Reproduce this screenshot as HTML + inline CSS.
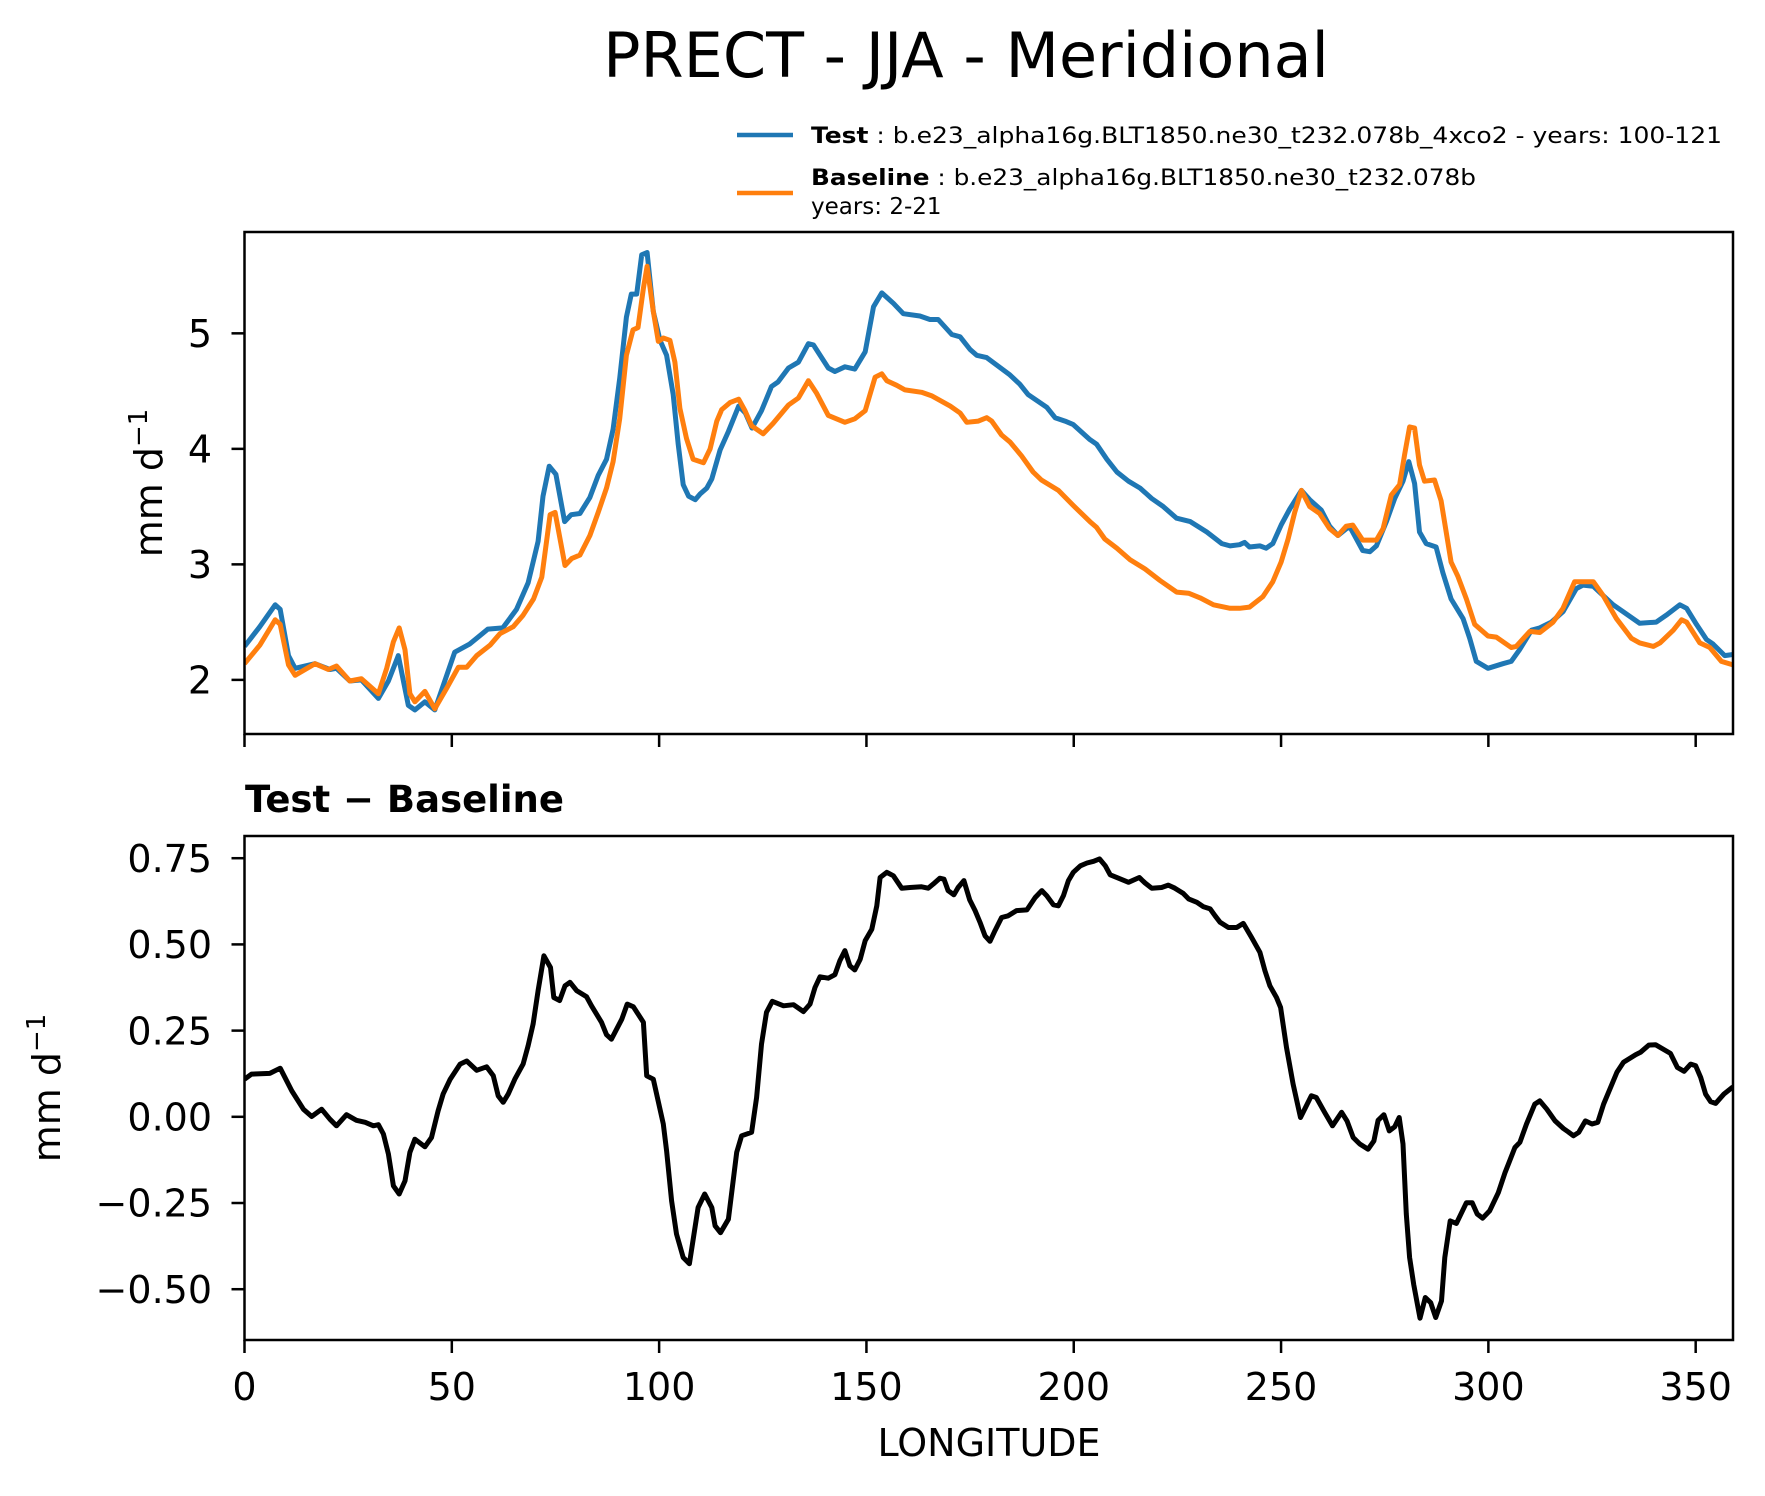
<!DOCTYPE html>
<html><head><meta charset="utf-8"><style>
html,body{margin:0;padding:0;background:#fff;}
svg{display:block;font-family:"DejaVu Sans","Liberation Sans",sans-serif;}
</style></head><body>
<svg id="chart" width="1765" height="1496" viewBox="0 0 1765 1496" xmlns="http://www.w3.org/2000/svg">
<text x="966" y="77" font-size="62" text-anchor="middle">PRECT - JJA - Meridional</text>
<g>
<line x1="737" y1="135" x2="793" y2="135" stroke="#1f77b4" stroke-width="4.5"/>
<text x="811" y="143" font-size="22" textLength="911" lengthAdjust="spacingAndGlyphs"><tspan font-weight="bold">Test</tspan> : b.e23_alpha16g.BLT1850.ne30_t232.078b_4xco2 - years: 100-121</text>
<line x1="737" y1="193" x2="793" y2="193" stroke="#ff7f0e" stroke-width="4.5"/>
<text x="811" y="185" font-size="22" textLength="665" lengthAdjust="spacingAndGlyphs"><tspan font-weight="bold">Baseline</tspan> : b.e23_alpha16g.BLT1850.ne30_t232.078b</text>
<text x="811" y="214" font-size="23">years: 2-21</text>
</g>
<g id="topg"></g>
<g id="botg"></g>
<text x="245" y="812" font-size="37" font-weight="bold">Test − Baseline</text>
<text x="989" y="1456" font-size="38" text-anchor="middle">LONGITUDE</text>
<text transform="translate(162,483) rotate(-90)" font-size="38" text-anchor="middle">mm d<tspan font-size="26" dy="-15">−1</tspan></text>
<text transform="translate(60,1088) rotate(-90)" font-size="38" text-anchor="middle">mm d<tspan font-size="26" dy="-15">−1</tspan></text>
</svg>
<script>
const lonTest=[0,3.7,7.4,8.6,10.6,12.2,17,20.6,22.2,25.4,28.2,32.3,34.7,37.1,39.5,41.1,43.5,45.9,50.7,54.3,58.7,62.3,65.6,68.4,70.8,72,73.5,75.1,77.2,78.8,80.9,83.3,85.3,87.3,88.9,90.5,92.1,93.3,94.6,95.8,97.1,98.6,100.2,101.8,103.4,104.6,105.8,107.1,108.7,109.9,111.5,112.7,114.7,116.7,119.2,120.8,122.4,124.7,127.1,128.7,131.2,133.6,136,137.2,140.8,142.4,144.8,147.2,149.7,151.7,153.7,156.5,158.9,162.9,165.3,167.3,170.6,172.6,175,176.6,179,184.6,187,189,193.5,195.5,197.9,199.9,203.9,205.5,208,210.4,213.2,216,218.8,221.6,224.8,228.1,232.1,235.7,237.7,240,241.2,242.4,244.9,246.4,248,250,252.1,254.9,256.9,259.7,261.7,263.7,266.5,269.7,271.4,273,275.4,277.4,279.4,280.8,282.2,283.4,285,287.4,289,291,293.9,295.5,297.1,299.9,303.5,305.5,307.5,310.4,312.4,315.2,318,321.2,322.8,325.3,327.7,330.1,332.5,336.5,340.5,342.9,346.2,347.8,350.2,352.6,354.2,357,359];
const testVals=[2.29,2.46,2.65,2.61,2.21,2.10,2.14,2.09,2.10,1.99,2.00,1.84,1.99,2.21,1.78,1.74,1.81,1.74,2.24,2.31,2.44,2.45,2.61,2.84,3.20,3.59,3.85,3.78,3.37,3.43,3.44,3.58,3.77,3.91,4.17,4.61,5.14,5.34,5.34,5.68,5.70,5.19,4.94,4.81,4.47,4.04,3.69,3.59,3.56,3.61,3.66,3.74,3.99,4.15,4.37,4.31,4.18,4.33,4.54,4.58,4.70,4.75,4.91,4.90,4.70,4.67,4.71,4.69,4.84,5.23,5.35,5.26,5.17,5.15,5.12,5.12,4.99,4.97,4.86,4.81,4.79,4.64,4.56,4.47,4.36,4.27,4.24,4.21,4.08,4.04,3.91,3.80,3.72,3.66,3.57,3.50,3.40,3.37,3.28,3.18,3.16,3.17,3.19,3.15,3.16,3.14,3.18,3.34,3.48,3.64,3.56,3.47,3.33,3.25,3.33,3.12,3.11,3.16,3.37,3.57,3.72,3.89,3.70,3.28,3.18,3.15,2.93,2.70,2.53,2.36,2.16,2.10,2.14,2.16,2.26,2.43,2.45,2.50,2.59,2.79,2.82,2.81,2.73,2.65,2.59,2.49,2.50,2.56,2.65,2.62,2.48,2.35,2.31,2.21,2.22];
const lonBase=[0,3.7,7.4,8.6,10.6,12.2,17,20.2,22.2,25.4,28.2,32.3,34.3,35.9,37.3,38.7,39.9,41.1,43.5,45.9,48.8,51.6,53.6,56,59.2,61.6,64.8,67.2,69.7,71.7,73.7,74.9,77.3,78.9,80.9,83.3,85.3,87.3,88.9,90.5,92.1,93.7,94.9,96.2,97.1,98.6,99.8,101,102.6,103.8,105,106.6,108.2,110.7,112.3,113.9,115.1,117.1,119.2,120.7,122.3,125.1,127.5,131.2,133.6,136,138,140.8,144.8,147.2,149.7,152.1,153.7,154.9,157.3,159.3,163.3,165.7,170.2,172.6,174.2,177,179,180.2,182.6,184.6,187.4,190.2,192.2,196.3,199.9,203.9,205.5,207.5,210.4,213.6,217.2,220.8,224.8,227.7,230.5,233.7,237.7,240,242.4,245.6,248,250,251.7,253.3,254.9,256.9,259.3,261.7,263.7,265.7,267.3,269.7,273,274.6,276.6,278.6,279.8,281,282.2,283.4,284.6,287,288.6,291,292.6,294.7,296.7,299.9,301.9,305.5,306.7,310,312.4,315.6,318,320.8,323.6,325.3,327.7,330.9,334.5,336.5,339.8,341.4,344.6,346.6,347.8,351,353.4,356.2,359];
const baseVals=[2.14,2.30,2.52,2.48,2.13,2.04,2.14,2.09,2.12,1.99,2.01,1.88,2.10,2.33,2.45,2.26,1.88,1.81,1.90,1.75,1.93,2.11,2.11,2.21,2.30,2.40,2.46,2.56,2.70,2.89,3.43,3.45,2.99,3.05,3.08,3.25,3.45,3.66,3.89,4.26,4.81,5.03,5.05,5.39,5.58,5.19,4.93,4.96,4.94,4.75,4.35,4.09,3.91,3.88,4.00,4.24,4.34,4.40,4.43,4.33,4.20,4.13,4.22,4.38,4.44,4.59,4.48,4.29,4.23,4.26,4.33,4.62,4.65,4.59,4.55,4.51,4.49,4.46,4.37,4.31,4.23,4.24,4.27,4.24,4.12,4.06,3.94,3.80,3.73,3.64,3.51,3.37,3.32,3.22,3.14,3.04,2.96,2.86,2.76,2.75,2.71,2.65,2.62,2.62,2.63,2.72,2.85,3.02,3.22,3.45,3.64,3.50,3.44,3.31,3.25,3.33,3.34,3.21,3.21,3.31,3.60,3.69,3.95,4.19,4.18,3.86,3.72,3.73,3.55,3.02,2.90,2.70,2.48,2.38,2.37,2.28,2.29,2.42,2.41,2.50,2.62,2.85,2.85,2.85,2.73,2.53,2.36,2.32,2.29,2.32,2.43,2.52,2.50,2.32,2.28,2.16,2.13];
const lonDiff=[0,1.7,6.1,8.6,11.4,14.2,16.2,18.6,20.6,22.2,24.6,27,29.1,31.1,32.3,33.5,34.7,35.9,37.3,38.7,39.9,41.1,43.5,45.1,46.7,47.9,49.6,52,53.6,56,58.4,60,61.2,62.4,63.6,65.2,67.2,68.4,69.6,70.8,72.2,73.8,74.6,76,77.3,78.5,80.1,82.5,83.7,86.1,87.3,88.5,91,92.3,93.8,96.2,97,98.6,101,101.8,103,104.2,105.8,107.3,109.4,111,112.7,113.5,114.8,116.7,118.7,119.9,122.3,123.5,124.7,125.9,127.3,130,132.4,134.8,136.4,137.6,138.8,140.8,142.4,143.6,144.8,146,147.2,148.5,149.7,151.3,152.5,153.3,154.9,156.5,158.5,160.5,163.3,164.9,166.1,167.7,168.7,169.7,171.1,172.1,173.5,174.9,176.2,177.4,178.6,179.8,181,182.6,184.2,186.2,188.7,190.7,192.3,193.5,195.1,196.3,197.5,198.7,199.9,201.6,203.2,204.8,206.2,207.6,208.8,210.8,213.2,215.8,217.2,218.8,221.2,222.8,224.4,226.4,227.7,229.7,231.3,232.9,234.1,235.3,237.3,239.3,240.9,242.9,244.9,246.1,247.3,248.9,249.9,251.3,252.9,254.7,255.9,257.3,258.5,260.5,262.4,264.6,265.9,267.4,269,271,272.4,273.4,274.8,276.1,277.4,278.5,279.4,280.2,281,282,283.5,284.8,286.1,287.3,288.7,289.5,290.8,292.3,294.7,296.1,297.3,298.6,300.3,302.4,304,305,306.4,307.6,309.2,311.2,312.4,314.1,316.1,318.1,319.3,320.5,321.8,323.4,325,326.4,327.8,331,332.6,335.5,336.7,338.7,340.3,343.9,345.6,347.2,348.8,350,351.2,352.4,353.6,354.8,356.8,359];
const diffVals=[0.109,0.124,0.126,0.141,0.075,0.022,0.001,0.022,-0.007,-0.026,0.006,-0.010,-0.016,-0.026,-0.023,-0.050,-0.108,-0.200,-0.224,-0.186,-0.103,-0.065,-0.087,-0.060,0.017,0.066,0.109,0.153,0.162,0.135,0.145,0.119,0.061,0.042,0.066,0.109,0.153,0.206,0.269,0.366,0.467,0.433,0.346,0.337,0.380,0.390,0.366,0.348,0.322,0.274,0.238,0.225,0.283,0.327,0.319,0.274,0.119,0.109,-0.021,-0.099,-0.244,-0.340,-0.408,-0.426,-0.263,-0.224,-0.263,-0.316,-0.336,-0.297,-0.103,-0.055,-0.045,0.056,0.211,0.303,0.335,0.322,0.325,0.305,0.327,0.375,0.406,0.402,0.412,0.453,0.482,0.438,0.426,0.457,0.511,0.544,0.612,0.694,0.709,0.699,0.663,0.665,0.667,0.663,0.675,0.692,0.689,0.656,0.644,0.665,0.685,0.629,0.598,0.564,0.525,0.509,0.540,0.578,0.583,0.598,0.600,0.636,0.656,0.641,0.615,0.612,0.641,0.685,0.709,0.728,0.736,0.741,0.748,0.728,0.702,0.692,0.680,0.694,0.678,0.663,0.665,0.672,0.663,0.648,0.632,0.622,0.609,0.603,0.583,0.564,0.549,0.549,0.561,0.520,0.477,0.424,0.380,0.346,0.317,0.201,0.095,-0.002,0.027,0.061,0.056,0.013,-0.026,0.013,-0.012,-0.060,-0.079,-0.094,-0.070,-0.010,0.006,-0.041,-0.029,-0.002,-0.079,-0.282,-0.408,-0.486,-0.584,-0.524,-0.539,-0.582,-0.534,-0.408,-0.302,-0.309,-0.249,-0.249,-0.282,-0.294,-0.273,-0.220,-0.162,-0.132,-0.089,-0.074,-0.021,0.037,0.046,0.022,-0.012,-0.034,-0.044,-0.055,-0.045,-0.012,-0.021,-0.016,0.037,0.129,0.158,0.180,0.187,0.208,0.209,0.184,0.143,0.132,0.153,0.148,0.114,0.066,0.044,0.039,0.066,0.087];
const xTicks=[0,50,100,150,200,250,300,350];
const topTicks=[2,3,4,5];
const topTickLabels=["2","3","4","5"];
const botTicks=[-0.5,-0.25,0,0.25,0.5,0.75];
const botTickLabels=["−0.50","−0.25","0.00","0.25","0.50","0.75"];

const NS="http://www.w3.org/2000/svg";
const X0=244.5, X1=1733, LON0=0, LON1=359;
function xs(l){return X0+(l-LON0)*(X1-X0)/(LON1-LON0);}
const TOPP={y0:232,y1:734,vmin:1.5315,vmax:5.8773};
const BOTP={y0:836,y1:1340,vmin:-0.6473,vmax:0.8144};
function ysF(p){return v=>p.y1-(v-p.vmin)*(p.y1-p.y0)/(p.vmax-p.vmin);}
function mk(tag,attrs,parent){const e=document.createElementNS(NS,tag);for(const k in attrs)e.setAttribute(k,attrs[k]);parent.appendChild(e);return e;}
function drawLine(parent,lon,vals,ys,color,name){
  const d=lon.map((l,i)=>(i?"L":"M")+xs(l).toFixed(1)+" "+ys(vals[i]).toFixed(1)).join(" ");
  const p=mk("path",{d:d,fill:"none",stroke:color,"stroke-width":"5","stroke-linejoin":"round"},parent);
  
  
}
function axes(g,P,yt,ytl,showX,prefix){
  const ys=ysF(P);
  const cp=mk("clipPath",{id:prefix+"clip"},g);
  mk("rect",{x:X0,y:P.y0,width:X1-X0,height:P.y1-P.y0},cp);
  const plot=mk("g",{"clip-path":"url(#"+prefix+"clip)"},g);
  
  
  yt.forEach((v,i)=>{
    const y=ys(v);
    const t=mk("line",{x1:X0-13,x2:X0,y1:y,y2:y,stroke:"#000","stroke-width":"2.5"},g);
    
    
    const tx=mk("text",{x:212,y:y+13.7,"font-size":"38","text-anchor":"end"},g);
    tx.textContent=ytl[i];
    
    
  });
  xTicks.forEach(v=>{
    const x=xs(v);
    const t=mk("line",{x1:x,x2:x,y1:P.y1,y2:P.y1+13,stroke:"#000","stroke-width":"2.5"},g);
    
    
    if(showX){
      const tx=mk("text",{x:x,y:1400,"font-size":"38","text-anchor":"middle"},g);
      tx.textContent=String(v);
      
      
    }
  });
  const r=mk("rect",{x:X0,y:P.y0,width:X1-X0,height:P.y1-P.y0,fill:"none",stroke:"#000","stroke-width":"2.5"},g);
  
  
  return {plot:plot,ys:ys};
}
const topAx=axes(document.getElementById("topg"),TOPP,topTicks,topTickLabels,false,"top-");
drawLine(topAx.plot,lonTest,testVals,topAx.ys,"#1f77b4","test-line");
drawLine(topAx.plot,lonBase,baseVals,topAx.ys,"#ff7f0e","baseline-line");
const botAx=axes(document.getElementById("botg"),BOTP,botTicks,botTickLabels,true,"bottom-");
drawLine(botAx.plot,lonDiff,diffVals,botAx.ys,"#000000","difference-line");
</script>
</body></html>
